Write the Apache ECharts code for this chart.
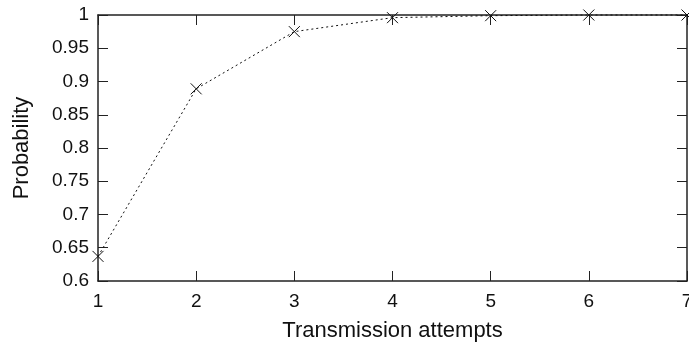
<!DOCTYPE html>
<html>
<head>
<meta charset="utf-8">
<script src="https://cdn.jsdelivr.net/npm/echarts@6/dist/echarts.min.js"></script>
<style>
  html, body { margin: 0; padding: 0; background: #fff; }
  #chart { width: 689px; height: 348px; }
</style>
</head>
<body>
<div id="chart"></div>
<script>
// data
const attempts = [1, 2, 3, 4, 5, 6, 7];
const probability = [0.637, 0.889, 0.975, 0.996, 0.999, 1.0, 1.0];

const chart = echarts.init(document.getElementById('chart'));

const font = 'Liberation Sans, Arial, sans-serif';
const lineCol = '#222';

// x cross marker
const cross = 'path://M0,0L10,10M10,0L0,10';

const tickIn = { show: true, inside: true, length: 10, lineStyle: { color: lineCol, width: 1 } };

let option = {
  animation: false,
  backgroundColor: '#fff',
  grid: { left: 98, right: 2, top: 15, bottom: 67, outerBoundsMode: 'none', containLabel: false },
  xAxis: [
    {
      type: 'value',
      min: 1, max: 7, interval: 1,
      name: 'Transmission attempts',
      nameLocation: 'middle',
      nameGap: 50,
      nameTextStyle: { fontFamily: font, fontSize: 22, color: '#111', verticalAlign: 'middle' },
      axisLine: { show: true, lineStyle: { color: lineCol, width: 1.5 } },
      axisTick: tickIn,
      axisLabel: { fontFamily: font, fontSize: 19, color: '#111', margin: 11 },
      splitLine: { show: false }
    },
    {
      // mirror at top
      type: 'value', position: 'top',
      min: 1, max: 7, interval: 1,
      axisLine: { show: true, lineStyle: { color: lineCol, width: 1.5 } },
      axisTick: tickIn,
      axisLabel: { show: false },
      splitLine: { show: false }
    }
  ],
  yAxis: [
    {
      type: 'value',
      min: 0.6, max: 1, interval: 0.05,
      name: 'Probability',
      nameLocation: 'middle',
      nameGap: 76,
      nameRotate: 90,
      nameTextStyle: { fontFamily: font, fontSize: 22, color: '#111', verticalAlign: 'middle' },
      axisLine: { show: true, lineStyle: { color: lineCol, width: 1.5 } },
      axisTick: tickIn,
      axisLabel: {
        fontFamily: font, fontSize: 19, color: '#111', margin: 9,
        formatter: v => String(+v.toFixed(2))
      },
      splitLine: { show: false }
    },
    {
      // mirror at right
      type: 'value', position: 'right',
      min: 0.6, max: 1, interval: 0.05,
      axisLine: { show: true, lineStyle: { color: lineCol, width: 1.5 } },
      axisTick: tickIn,
      axisLabel: { show: false },
      splitLine: { show: false }
    }
  ],
  series: [
    {
      type: 'line',
      data: attempts.map((a, i) => [a, probability[i]]),
      symbol: cross,
      symbolSize: 11,
      showAllSymbol: true,
      clip: false,
      itemStyle: { color: 'none', borderColor: '#111', borderWidth: 1 },
      lineStyle: { color: '#111', width: 1, type: [2, 3] },
      z: 3
    }
  ]
};

chart.setOption(option);
</script>
</body>
</html>
